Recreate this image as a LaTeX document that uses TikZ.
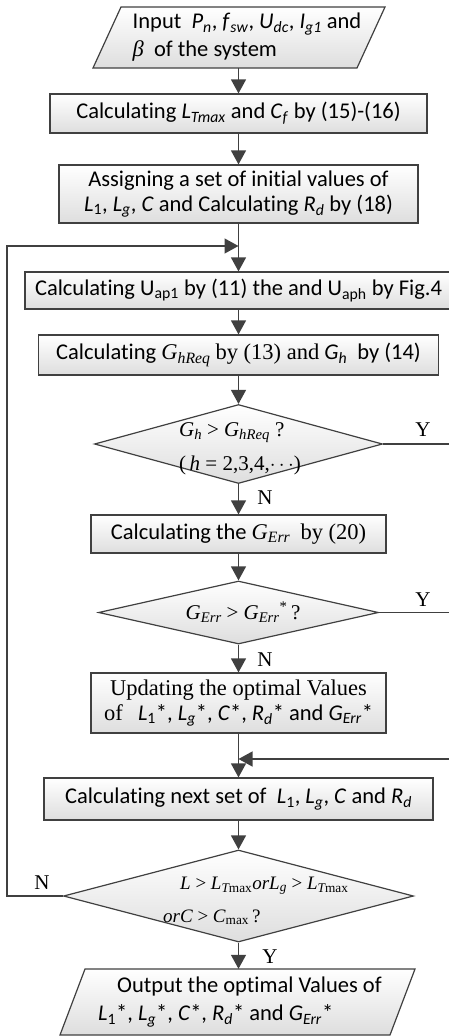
\documentclass[tikz,border=0pt]{standalone}
\usepackage{fontspec}
\setmainfont{Carlito}[Ligatures={TeX,NoCommon}]
\newfontfamily\tmr{Liberation Serif}
\usetikzlibrary{shapes.geometric,arrows.meta}
\pgfdeclarelayer{background}
\pgfsetlayers{background,main}
\newcommand{\vi}[2]{\textit{#1}\textsubscript{\textit{#2}}}
\newcommand{\tvi}[2]{{\tmr\textit{#1}\textsubscript{\textit{#2}}}}
\newcommand{\tr}[1]{{\tmr #1}}
\newcommand{\ti}[1]{{\tmr\itshape #1}}
\newcommand{\rel}[1]{\hspace{5pt}#1\hspace{5pt}}
\tikzset{
  ln/.style={draw=black!75, line width=1.3pt},
  arr/.style={ln, -{Triangle[width=15pt,length=14pt]}},
  shapefill/.style={draw=black!75, line width=1.2pt, top color=white, bottom color=black!13},
  boxs/.style={shapefill, rectangle, inner sep=0pt, align=center, font=\fontsize{22.5}{25.5}\selectfont},
  dia/.style={shapefill, diamond, inner sep=0pt},
  txt/.style={inner sep=0pt, align=left, font=\fontsize{22.5}{28}\selectfont},
  dtxt/.style={inner sep=0pt, align=left, font=\tmr\fontsize{21}{34}\selectfont},
  yn/.style={inner sep=0pt, font=\tmr\fontsize{21}{25}\selectfont},
}
\begin{document}
\begin{tikzpicture}[x=1pt,y=-1pt]
\useasboundingbox (0,0) rectangle (449,1036);

% input
\node[txt, minimum height=61pt] (in) at (247,37.5)
  {Input\ \ \vi{P}{n}, \vi{f}{sw}, \vi{U}{dc}, \vi{I}{g1} and\\ \ti{β}\ \ of the system};
\node[boxs, minimum width=377pt, minimum height=39pt] (b2) at (238.5,113.5)
  {Calculating \vi{L}{Tmax} and \vi{C}{f} by (15)-(16)};
\node[boxs, minimum width=359pt, minimum height=58pt] (b3) at (238.5,194)
  {Assigning a set of initial values of\\ \textit{L}\textsubscript{1}, \vi{L}{g}, \textit{C} and Calculating \vi{R}{d} by (18)};
\node[boxs, minimum width=427pt, minimum height=37pt] (b4) at (238.5,290.5)
  {Calculating U\textsubscript{ap1} by (11) the and U\textsubscript{aph} by Fig.4};
\node[boxs, minimum width=400pt, minimum height=40pt] (b5) at (238.5,355)
  {Calculating \tvi{G}{hReq} \tr{by (13) and} \vi{G}{h}\ \ by (14)};
\node[dia, minimum width=288pt, minimum height=79pt] (d1) at (238.5,444) {};
\node[dtxt, anchor=west] (d1t) at (179,449)
  {\ti{G}\textsubscript{\ti{h}}\rel{>}\ti{G}\textsubscript{\ti{hReq}}\ ?\\(\,\ti{h} = 2,3,4,$\cdots$)};
\node[boxs, minimum width=295pt, minimum height=38pt] (b6) at (238.5,534)
  {Calculating the \ti{G}\textsubscript{\ti{Err}}\ \ \tr{by (20)}};
\node[dia, minimum width=280pt, minimum height=63pt] (d2) at (238.5,612.5) {};
\node[dtxt, anchor=center] (d2t) at (243,612)
  {\ti{G}\textsubscript{\ti{Err}}\rel{>}\ti{G}\textsubscript{\ti{Err}}\textsuperscript{*}\,?};
\node[boxs, minimum width=295pt, minimum height=60pt] (b7) at (238.5,703)
  {\tr{Updating the optimal Values}\\ \tr{of}\ \ \ \textit{L}\textsubscript{1}*, \vi{L}{g}*, \textit{C}*, \vi{R}{d}* and \vi{G}{Err}*};
\node[boxs, minimum width=389pt, minimum height=42pt] (b8) at (238.5,799)
  {Calculating next set of\ \ \textit{L}\textsubscript{1}, \vi{L}{g}, \textit{C} and \vi{R}{d}};
\node[dia, minimum width=350pt, minimum height=92pt] (d3) at (238.5,896) {};
\node[dtxt, anchor=west, font=\tmr\fontsize{19}{33}\selectfont] (d3t) at (163,901)
  {\hspace*{17pt}\ti{L} > \ti{L}\textsubscript{\ti{T}max}\ti{orL}\textsubscript{\ti{g}} > \ti{L}\textsubscript{\ti{T}max}\\ \ti{orC} > \ti{C}\textsubscript{max}\,?};
\node[txt, minimum height=66pt] (out) at (240,1002)
  {\hspace*{19pt}Output the optimal Values of\\ \textit{L}\textsubscript{1}*, \vi{L}{g}*, \textit{C}*, \vi{R}{d}* and \vi{G}{Err}*};

\begin{pgfonlayer}{background}
  \path[shapefill] (121,7) -- (385,7) -- (357,68) -- (93,68) -- cycle;
  \path[shapefill] (85,969) -- (415,969) -- (390,1035) -- (60,1035) -- cycle;
\end{pgfonlayer}

% coordinates
\coordinate (j1) at (238.5,246);
\coordinate (j2) at (238.5,759);
\coordinate (lt) at (7,246);
\coordinate (lb) at (7,896);
\coordinate (r1) at (449,444);
\coordinate (r2) at (449,612.5);
\coordinate (r3) at (449,759);

% connectors
\draw[arr] (in.south -| b2.north) -- (b2.north);
\draw[arr] (b2.south) -- (b3.north);
\draw[arr] (b3.south) -- (b4.north);
\draw[arr] (d3.west) -- (lb) -- (lt) -- (j1);
\draw[arr] (b4.south) -- (b5.north);
\draw[arr] (b5.south) -- (d1.north);
\draw[arr] (d1.south) -- (b6.north);
\draw[ln] (d1.east) -- (r1);
\draw[arr] (b6.south) -- (d2.north);
\draw[arr] (d2.south) -- (b7.north);
\draw[ln] (d2.east) -- (r2);
\draw[arr] (b7.south) -- (b8.north);
\draw[arr] (r3) -- (j2);
\draw[arr] (b8.south) -- (d3.north);
\draw[arr] (d3.south) -- (d3.south |- out.north);

% labels
\node[yn] (y1) at (423,430) {Y};
\node[yn] (n1) at (265,498) {N};
\node[yn] (y2) at (423,600) {Y};
\node[yn] (n2) at (265,660) {N};
\node[yn] (n3) at (42,883) {N};
\node[yn] (y3) at (270,957) {Y};
\end{tikzpicture}
\end{document}
